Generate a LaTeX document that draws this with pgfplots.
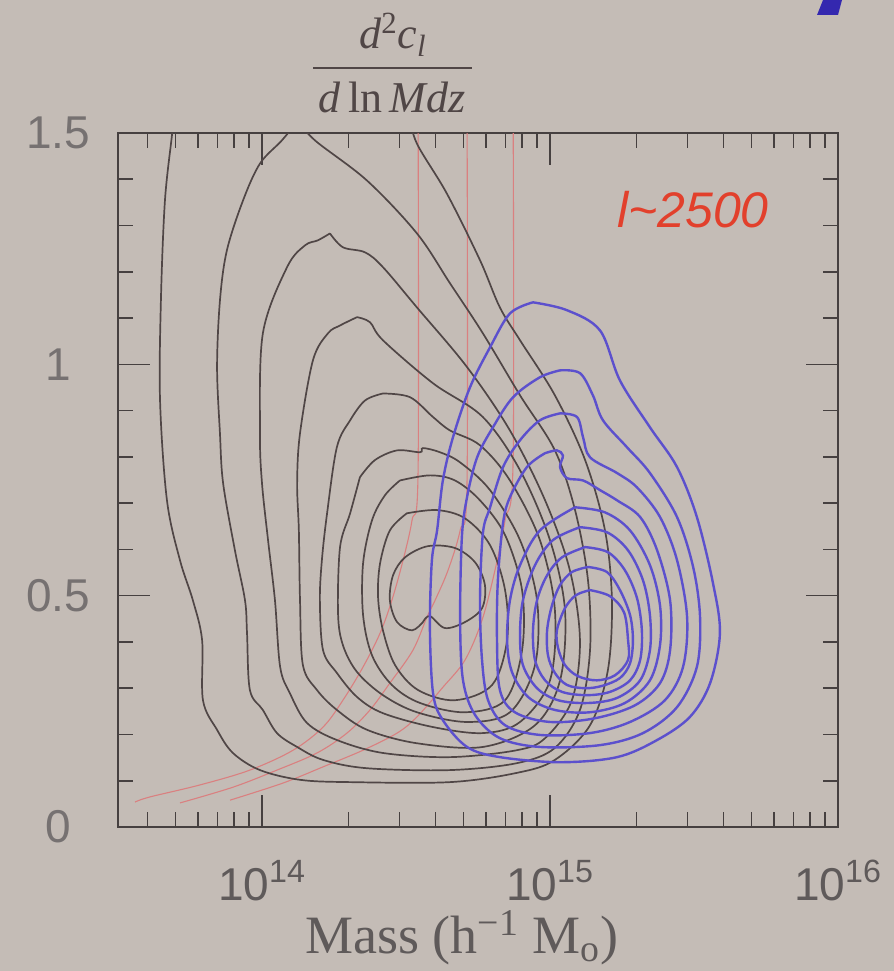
\documentclass[border=0pt]{standalone}
\usepackage{pgfplots}
\pgfplotsset{compat=1.18}
\usepackage{fontspec}
\setmainfont{Liberation Serif}
\newfontfamily\lsans{Liberation Sans}
\definecolor{bgc}{RGB}{196,188,182}
\definecolor{axc}{RGB}{70,64,64}
\definecolor{blk}{RGB}{80,70,70}
\definecolor{blu}{RGB}{92,80,205}
\definecolor{rd}{RGB}{218,128,128}
\definecolor{lab}{RGB}{226,64,44}
\definecolor{xlab}{RGB}{95,90,90}
\definecolor{ylab}{RGB}{118,113,113}
\definecolor{patch}{RGB}{52,40,175}
\begin{document}
\begin{tikzpicture}
\fill[bgc] (-59pt,-72pt) rectangle (388pt,413.5pt);
\fill[patch] (352.5pt,413.5pt) -- (362pt,413.5pt) -- (360pt,406pt) -- (349.5pt,406pt) -- cycle;
\begin{axis}[at={(0,0)}, anchor=south west, width=360pt, height=347pt, scale only axis,
  xmin=13.5, xmax=16, ymin=0, ymax=1.5,
  axis line style={axc, line width=1pt},
  tick style={axc, line width=0.8pt},
  tick align=inside,
  major tick length=16pt, minor tick length=7.5pt,
  xtick={14,15,16},
  xticklabels={{10\textsuperscript{14}},{10\textsuperscript{15}},{10\textsuperscript{16}}},
  minor xtick={13.602,13.699,13.778,13.845,13.903,13.954,14.301,14.477,14.602,14.699,14.778,14.845,14.903,14.954,15.301,15.477,15.602,15.699,15.778,15.845,15.903,15.954},
  ytick={0,0.5,1,1.5},
  yticklabels={0,0.5,1,1.5},
  minor ytick={0.1,0.2,0.3,0.4,0.6,0.7,0.8,0.9,1.1,1.2,1.3,1.4},
  xticklabel style={font=\lsans\fontsize{23}{27}\selectfont, text=xlab, yshift=-13pt},
  yticklabel style={font=\lsans\fontsize{23}{27}\selectfont, text=ylab, anchor=center, xshift=-30pt},
  every axis plot/.append style={smooth, tension=0.55, no marks},
]
% red curves
\addplot[rd, line width=0.55pt] coordinates {(14.542,1.55) (14.542,0.771) (14.521,0.663) (14.490,0.577) (14.451,0.490) (14.410,0.419) (14.351,0.346) (14.281,0.274) (14.212,0.216) (14.108,0.166) (13.958,0.123) (13.785,0.091) (13.611,0.065) (13.559,0.054)};
\addplot[rd, line width=0.55pt] coordinates {(14.712,1.55) (14.712,0.749) (14.688,0.641) (14.646,0.555) (14.601,0.490) (14.573,0.454) (14.524,0.382) (14.444,0.311) (14.375,0.253) (14.295,0.203) (14.191,0.160) (14.052,0.123) (13.899,0.086) (13.715,0.052)};
\addplot[rd, line width=0.55pt] coordinates {(14.872,1.55) (14.872,0.793) (14.844,0.663) (14.809,0.555) (14.764,0.447) (14.705,0.361) (14.628,0.302) (14.538,0.238) (14.469,0.203) (14.351,0.166) (14.212,0.130) (14.073,0.095) (13.889,0.058)};
% black contours
\addplot[blk, line width=0.85pt] coordinates {(13.694,1.549) (13.688,1.499) (13.663,1.354) (13.649,1.138) (13.646,0.922) (13.670,0.706) (13.715,0.577) (13.760,0.490) (13.792,0.404) (13.795,0.274) (13.844,0.210) (13.899,0.160) (13.993,0.123) (14.132,0.102) (14.306,0.097) (14.653,0.097) (14.885,0.117) (15.017,0.145) (15.139,0.220) (15.201,0.339) (15.215,0.490) (15.191,0.641) (15.122,0.793) (15.017,0.933) (14.896,1.052) (14.826,1.123) (14.757,1.225) (14.642,1.369) (14.538,1.477) (14.510,1.540)};
\addplot[blk, line width=0.85pt] coordinates {(14.125,1.527) (14.069,1.484) (13.993,1.434) (13.934,1.354) (13.878,1.246) (13.854,1.138) (13.844,0.994) (13.854,0.851) (13.865,0.743) (13.906,0.598) (13.941,0.490) (13.948,0.419) (13.958,0.296) (14.003,0.253) (14.052,0.203) (14.122,0.173) (14.212,0.145) (14.365,0.127) (14.653,0.123) (14.885,0.138) (15.017,0.171) (15.104,0.253) (15.139,0.382) (15.132,0.533) (15.087,0.685) (15.017,0.814) (14.896,0.933) (14.767,1.067) (14.653,1.175) (14.538,1.283) (14.365,1.397) (14.184,1.484) (14.125,1.527)};
\addplot[blk, line width=0.85pt] coordinates {(14.236,1.283) (14.281,1.253) (14.358,1.242) (14.420,1.210) (14.538,1.123) (14.712,0.994) (14.861,0.857) (14.983,0.706) (15.069,0.555) (15.104,0.404) (15.076,0.274) (14.983,0.192) (14.885,0.166) (14.653,0.151) (14.420,0.160) (14.260,0.188) (14.156,0.225) (14.097,0.289) (14.063,0.346) (14.045,0.490) (14.021,0.620) (14.000,0.743) (13.993,0.851) (14.003,1.067) (14.087,1.210) (14.149,1.257) (14.194,1.268) (14.236,1.283)};
\addplot[blk, line width=0.85pt] coordinates {(14.330,1.102) (14.375,1.091) (14.420,1.052) (14.594,0.959) (14.767,0.886) (14.896,0.771) (15.000,0.620) (15.052,0.469) (15.035,0.317) (14.948,0.220) (14.767,0.173) (14.538,0.181) (14.365,0.210) (14.260,0.253) (14.191,0.296) (14.142,0.350) (14.132,0.490) (14.128,0.641) (14.122,0.743) (14.132,0.851) (14.177,1.009) (14.229,1.067) (14.271,1.084) (14.330,1.102)};
\addplot[blk, line width=0.85pt] coordinates {(14.420,0.937) (14.514,0.929) (14.594,0.886) (14.653,0.857) (14.757,0.825) (14.861,0.749) (14.965,0.620) (15.017,0.469) (15.000,0.317) (14.896,0.227) (14.767,0.203) (14.594,0.216) (14.420,0.246) (14.330,0.281) (14.260,0.333) (14.212,0.382) (14.201,0.490) (14.208,0.577) (14.226,0.678) (14.260,0.821) (14.306,0.879) (14.358,0.922) (14.420,0.937)};
\addplot[blk, line width=0.85pt] coordinates {(14.340,0.756) (14.392,0.793) (14.469,0.814) (14.549,0.810) (14.559,0.819) (14.618,0.810) (14.688,0.788) (14.792,0.728) (14.896,0.620) (14.955,0.490) (14.948,0.350) (14.861,0.248) (14.712,0.227) (14.538,0.248) (14.420,0.285) (14.330,0.335) (14.281,0.393) (14.264,0.462) (14.271,0.605) (14.306,0.678) (14.340,0.756)};
\addplot[blk, line width=0.85pt] coordinates {(14.479,0.749) (14.583,0.760) (14.670,0.749) (14.757,0.706) (14.844,0.631) (14.903,0.512) (14.903,0.382) (14.844,0.274) (14.705,0.248) (14.549,0.268) (14.451,0.307) (14.382,0.371) (14.351,0.458) (14.351,0.570) (14.382,0.663) (14.427,0.717) (14.479,0.749)};
\addplot[blk, line width=0.85pt] coordinates {(14.503,0.678) (14.608,0.685) (14.705,0.667) (14.792,0.609) (14.844,0.512) (14.851,0.404) (14.799,0.307) (14.670,0.274) (14.542,0.296) (14.462,0.350) (14.420,0.425) (14.403,0.497) (14.410,0.570) (14.444,0.641) (14.503,0.678)};
\addplot[blk, line width=0.85pt] coordinates {(14.559,0.443) (14.521,0.425) (14.469,0.443) (14.444,0.490) (14.455,0.544) (14.497,0.583) (14.576,0.607) (14.670,0.603) (14.740,0.572) (14.774,0.523) (14.764,0.473) (14.705,0.443) (14.635,0.430) (14.583,0.456) (14.559,0.443)};
% blue contours
\addplot[blu, line width=1.2pt] coordinates {(14.941,1.134) (15.059,1.117) (15.174,1.073) (15.243,0.965) (15.347,0.864) (15.441,0.778) (15.510,0.670) (15.566,0.527) (15.590,0.419) (15.556,0.311) (15.486,0.238) (15.372,0.188) (15.233,0.151) (15.035,0.140) (14.826,0.151) (14.712,0.173) (14.628,0.231) (14.594,0.289) (14.583,0.432) (14.590,0.577) (14.608,0.641) (14.628,0.749) (14.663,0.842) (14.722,0.950) (14.792,1.037) (14.861,1.110) (14.941,1.134)};
\addplot[blu, line width=1.2pt] coordinates {(15.035,0.987) (15.104,0.981) (15.149,0.933) (15.184,0.879) (15.267,0.821) (15.347,0.765) (15.441,0.670) (15.497,0.562) (15.521,0.454) (15.510,0.346) (15.441,0.259) (15.323,0.203) (15.174,0.177) (14.965,0.173) (14.826,0.192) (14.740,0.242) (14.698,0.317) (14.688,0.447) (14.694,0.626) (14.712,0.713) (14.747,0.799) (14.802,0.864) (14.872,0.929) (14.965,0.972) (15.035,0.987)};
\addplot[blu, line width=1.2pt] coordinates {(15.035,0.894) (15.094,0.886) (15.115,0.842) (15.139,0.799) (15.233,0.765) (15.302,0.734) (15.382,0.670) (15.441,0.577) (15.476,0.454) (15.462,0.346) (15.399,0.274) (15.278,0.227) (15.139,0.203) (14.965,0.199) (14.844,0.220) (14.785,0.274) (14.764,0.361) (14.757,0.490) (14.767,0.635) (14.792,0.691) (14.837,0.778) (14.896,0.836) (14.965,0.879) (15.035,0.894)};
\addplot[blu, line width=1.2pt] coordinates {(14.983,0.808) (15.024,0.814) (15.045,0.803) (15.035,0.778) (15.059,0.754) (15.115,0.749) (15.174,0.728) (15.233,0.706) (15.313,0.670) (15.372,0.598) (15.417,0.490) (15.417,0.382) (15.382,0.311) (15.295,0.263) (15.156,0.235) (15.000,0.227) (14.878,0.248) (14.826,0.296) (14.816,0.404) (14.819,0.533) (14.837,0.657) (14.861,0.713) (14.920,0.778) (14.983,0.808)};
\addplot[blu, line width=1.2pt] coordinates {(15.087,0.691) (15.191,0.680) (15.278,0.641) (15.347,0.566) (15.382,0.479) (15.382,0.393) (15.347,0.317) (15.260,0.268) (15.139,0.248) (15.017,0.253) (14.924,0.281) (14.868,0.335) (14.851,0.404) (14.861,0.490) (14.896,0.566) (14.965,0.641) (15.087,0.691)};
\addplot[blu, line width=1.2pt] coordinates {(15.104,0.648) (15.198,0.637) (15.271,0.598) (15.323,0.533) (15.347,0.458) (15.347,0.382) (15.313,0.317) (15.233,0.279) (15.132,0.268) (15.028,0.274) (14.955,0.300) (14.906,0.350) (14.896,0.415) (14.906,0.490) (14.948,0.566) (15.010,0.620) (15.104,0.648)};
\addplot[blu, line width=1.2pt] coordinates {(15.122,0.605) (15.201,0.594) (15.260,0.555) (15.302,0.495) (15.319,0.425) (15.313,0.361) (15.278,0.317) (15.208,0.292) (15.128,0.285) (15.042,0.292) (14.983,0.317) (14.948,0.361) (14.941,0.425) (14.955,0.490) (14.990,0.544) (15.042,0.583) (15.122,0.605)};
\addplot[blu, line width=1.2pt] coordinates {(15.132,0.562) (15.198,0.551) (15.243,0.512) (15.278,0.458) (15.288,0.404) (15.278,0.354) (15.243,0.322) (15.181,0.305) (15.122,0.300) (15.059,0.307) (15.017,0.333) (14.993,0.371) (14.990,0.425) (15.007,0.479) (15.035,0.523) (15.076,0.551) (15.132,0.562)};
\addplot[blu, line width=1.2pt] coordinates {(15.139,0.512) (15.208,0.499) (15.257,0.464) (15.271,0.404) (15.271,0.361) (15.226,0.328) (15.163,0.317) (15.097,0.326) (15.052,0.350) (15.028,0.387) (15.024,0.425) (15.052,0.473) (15.090,0.501) (15.139,0.512)};
\end{axis}
% title fraction
\node[text=blk, font=\fontsize{22}{26}\selectfont, anchor=base] at (137.5pt,389pt) {\itshape d\textsuperscript{\upshape 2}c\textsubscript{l}};
\fill[blk] (97.5pt,379pt) rectangle (177pt,380.2pt);
\node[text=blk, font=\fontsize{22}{26}\selectfont, anchor=base] at (137pt,357pt) {\itshape d\,\upshape ln\,\itshape Mdz};
% label
\node[text=lab, font=\lsans\itshape\fontsize{25}{30}\selectfont] at (287.5pt,308.5pt) {l\textasciitilde2500};
% x axis label
\node[text=xlab, font=\fontsize{27}{32}\selectfont] at (172pt,-55.5pt) {Mass (h\textsuperscript{−1} M\textsubscript{o})};
\pgfresetboundingbox
\path[use as bounding box] (-59pt,-72pt) rectangle (388pt,413.5pt);
\end{tikzpicture}
\end{document}
